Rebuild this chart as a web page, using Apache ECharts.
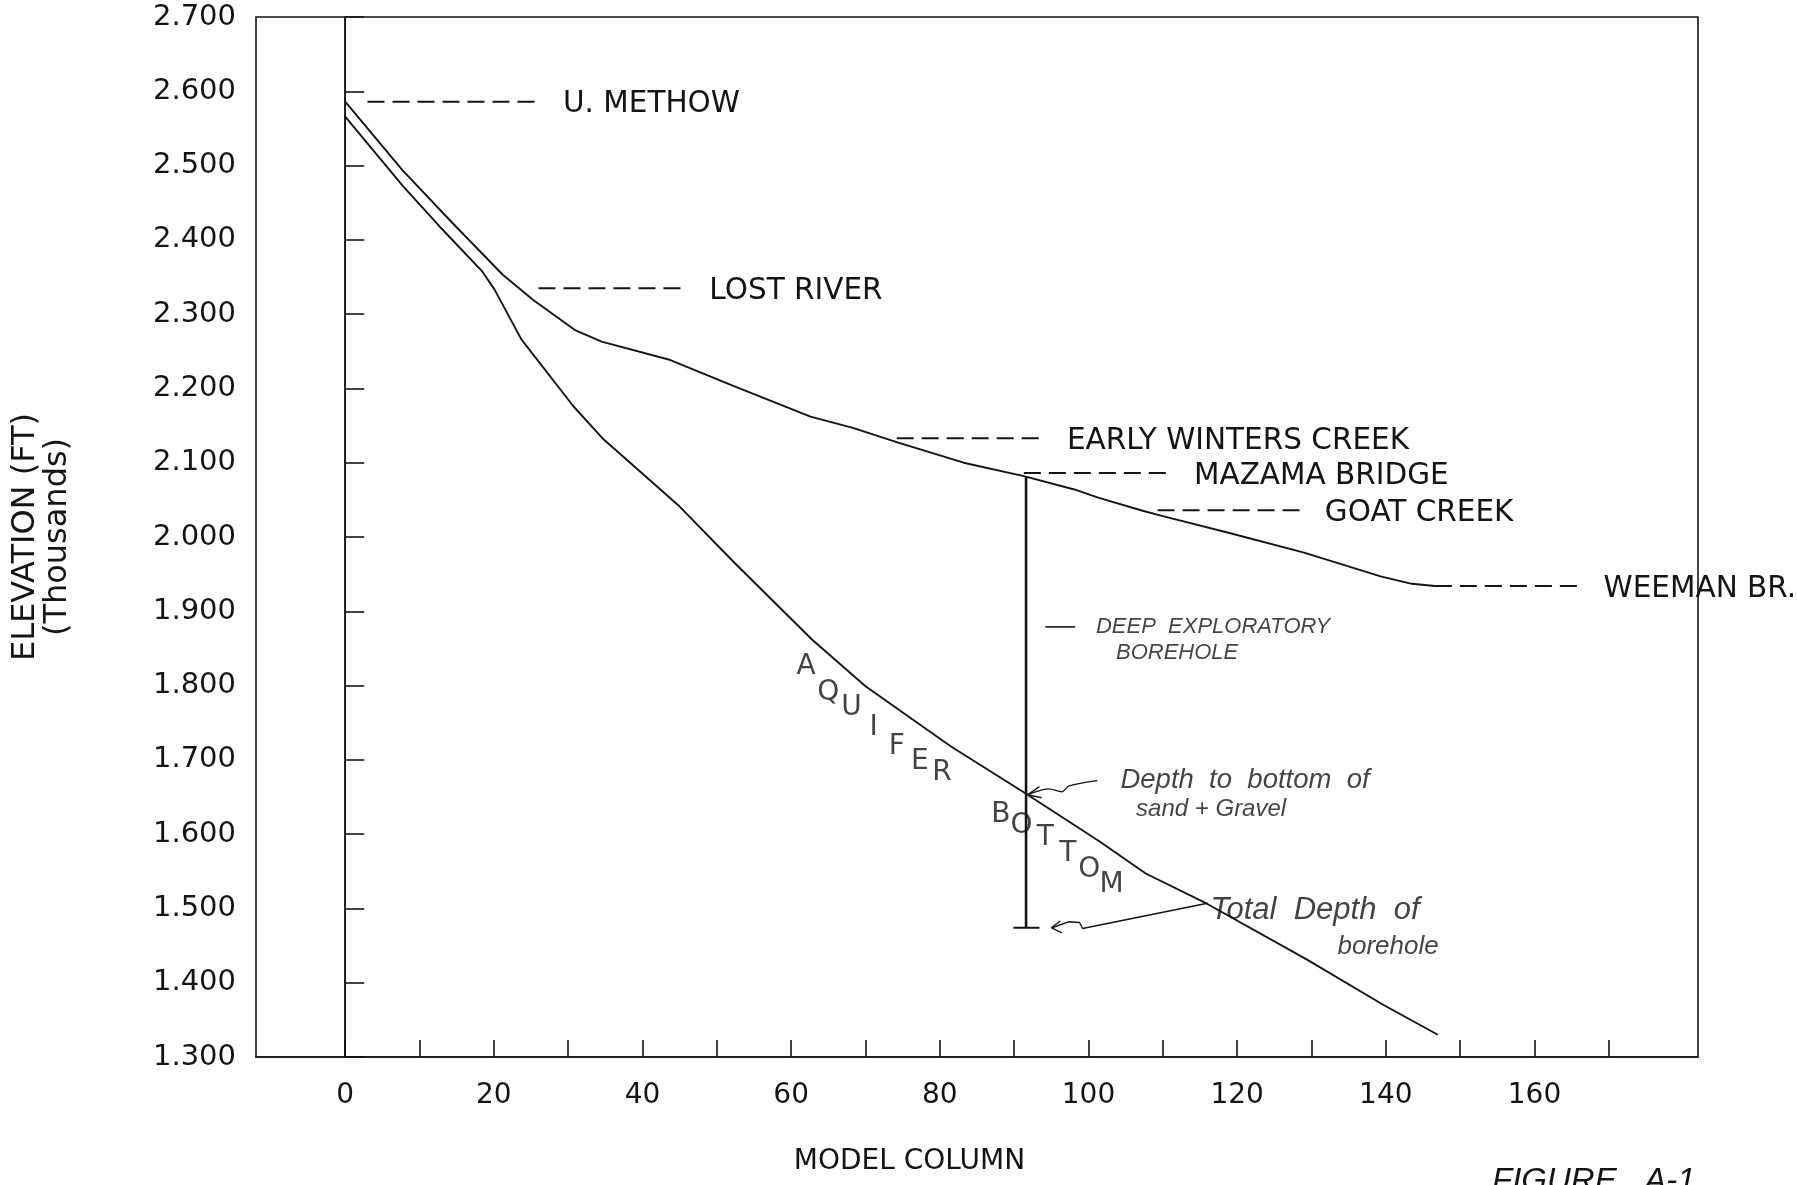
<!DOCTYPE html>
<html><head><meta charset="utf-8">
<script src="https://cdn.jsdelivr.net/npm/echarts@6/dist/echarts.min.js"></script>
<style>html,body{margin:0;padding:0;background:#fff}#c{width:1797px;height:1185px}</style>
</head><body><div id="c"></div>
<script>
// ---- data (model column, elevation in thousands of ft) ----
const riverCols = [0, 7.7, 14.4, 21.2, 25.3, 31, 34.5, 43.5, 52.3, 62.6, 68.3, 74.4, 83.2, 91.3, 98.1, 101.3, 107.4, 110, 118.7, 129, 139.3, 143.5, 146.6];
const riverElev = [2.586, 2.494, 2.423, 2.353, 2.319, 2.278, 2.263, 2.239, 2.203, 2.162, 2.147, 2.127, 2.100, 2.082, 2.064, 2.053, 2.035, 2.028, 2.006, 1.979, 1.947, 1.937, 1.934];
const aquiferCols = [0, 7.8, 12.7, 18.4, 20.1, 23.7, 30.7, 34.6, 45, 52.4, 62.8, 70, 81.5, 91.5, 101.5, 107.7, 116, 129.4, 139.7, 147];
const aquiferElev = [2.566, 2.472, 2.418, 2.358, 2.333, 2.266, 2.176, 2.133, 2.041, 1.965, 1.862, 1.799, 1.718, 1.655, 1.590, 1.547, 1.506, 1.431, 1.370, 1.330];

const yTickValues = [1.3, 1.4, 1.5, 1.6, 1.7, 1.8, 1.9, 2.0, 2.1, 2.2, 2.3, 2.4, 2.5, 2.6, 2.7];
const xTickValues = [0, 10, 20, 30, 40, 50, 60, 70, 80, 90, 100, 110, 120, 130, 140, 150, 160, 170];
const xLabelValues = [0, 20, 40, 60, 80, 100, 120, 140, 160];

const siteNames = ['U. METHOW', 'LOST RIVER', 'EARLY WINTERS CREEK', 'MAZAMA BRIDGE', 'GOAT CREEK', 'WEEMAN BR.'];
const siteStart = [3.0, 26.0, 74.2, 91.3, 109.3, 146.6];
const siteEnd = [26.2, 45.9, 94.0, 111.1, 128.7, 166.2];
const siteElev = [2.586, 2.335, 2.133, 2.086, 2.036, 1.934];

const boreholeCol = 91.6;
const boreholeTop = 2.082;
const boreholeBottom = 1.474;
const boreholeFootCols = [89.9, 93.4];

const letters = ['A', 'Q', 'U', 'I', 'F', 'E', 'R', 'B', 'O', 'T', 'T', 'O', 'M'];
const letterCols = [62.0, 65.0, 68.1, 71.1, 74.2, 77.3, 80.3, 88.2, 91.0, 94.2, 97.2, 100.1, 103.1];
const letterElev = [1.826, 1.790, 1.770, 1.743, 1.718, 1.698, 1.683, 1.626, 1.612, 1.595, 1.574, 1.552, 1.532];

const noteTexts = ['DEEP  EXPLORATORY', 'BOREHOLE', 'Depth  to  bottom  of', 'sand + Gravel', 'Total  Depth  of', 'borehole'];
const noteCols = [101.0, 103.7, 104.3, 106.4, 116.4, 133.5];
const noteElev = [1.879, 1.844, 1.673, 1.633, 1.498, 1.449];
const noteSizes = [22, 22, 27.5, 24, 31, 26];

const deepDashCols = [94.2, 98.2];
const deepDashElev = 1.879;

const arrow1Cols = [101.2, 97.4, 96.4, 94.7, 91.8];
const arrow1Elev = [1.672, 1.665, 1.657, 1.661, 1.653];
const head1Cols = [93.4, 91.8, 93.7];
const head1Elev = [1.664, 1.653, 1.649];

const arrow2Cols = [116.0, 99.2, 98.8, 97.3, 95.1];
const arrow2Elev = [1.507, 1.473, 1.481, 1.482, 1.474];
const head2Cols = [96.2, 95.0, 96.4];
const head2Elev = [1.483, 1.474, 1.467];

// ---- helpers ----
const zip = (xs, ys) => xs.map((x, i) => [x, ys[i]]);
const INK = '#141414';
const FONT = 'DejaVu Sans';
const HAND = 'Liberation Sans';

function plainLine(data, width, extra) {
  return Object.assign({
    type: 'line', data: data, symbol: 'none', showSymbol: false, silent: true,
    clip: false, animation: false,
    lineStyle: { color: INK, width: width }
  }, extra || {});
}

const series = [];
// vertical line at column 0
series.push(plainLine([[0, 1.3], [0, 2.7]], 1.6));
// river surface and aquifer bottom
series.push(plainLine(zip(riverCols, riverElev), 1.9));
series.push(plainLine(zip(aquiferCols, aquiferElev), 1.9));
// site leaders with labels
siteNames.forEach((nm, i) => {
  series.push(plainLine([[siteStart[i], siteElev[i]], [siteEnd[i], siteElev[i]]], 2, {
    name: nm,
    lineStyle: { color: INK, width: 2, type: [17, 8] },
    endLabel: {
      show: true, formatter: nm, distance: 23, offset: [0, 3],
      color: INK, fontSize: 29.5, fontFamily: FONT
    }
  }));
});
// borehole
series.push(plainLine([[boreholeCol, boreholeTop], [boreholeCol, boreholeBottom]], 2.6));
series.push(plainLine([[boreholeFootCols[0], boreholeBottom], [boreholeFootCols[1], boreholeBottom]], 2));
series.push(plainLine([[deepDashCols[0], deepDashElev], [deepDashCols[1], deepDashElev]], 1.6));
// arrows
series.push(plainLine(zip(arrow1Cols, arrow1Elev), 1.4, { smooth: 0.3 }));
series.push(plainLine(zip(head1Cols, head1Elev), 1.4));
series.push(plainLine(zip(arrow2Cols, arrow2Elev), 1.4));
series.push(plainLine(zip(head2Cols, head2Elev), 1.4));
// AQUIFER BOTTOM letters
series.push({
  type: 'scatter', data: zip(letterCols, letterElev), symbolSize: 0, silent: true, animation: false, clip: false,
  label: {
    show: true, position: 'inside', formatter: p => letters[p.dataIndex],
    color: INK, fontSize: 28, fontFamily: FONT
  }
});
// handwritten notes
noteTexts.forEach((t, i) => {
  series.push({
    type: 'scatter', data: [[noteCols[i], noteElev[i]]], symbolSize: 0, silent: true, animation: false, clip: false,
    label: {
      show: true, position: 'right', distance: 0, formatter: t,
      color: INK, fontSize: noteSizes[i], fontFamily: HAND, fontStyle: 'italic'
    }
  });
});

const chart = echarts.init(document.getElementById('c'), null, { renderer: 'canvas' });
chart.setOption({
  backgroundColor: '#ffffff',
  animation: false,
  grid: {
    left: 256, right: 99, top: 17, bottom: 128,
    show: true, borderColor: INK, borderWidth: 1.6,
    outerBoundsMode: 'none'
  },
  xAxis: {
    type: 'value', min: -12, max: 182,
    name: 'MODEL COLUMN', nameLocation: 'middle', nameGap: 91,
    nameTextStyle: { color: INK, fontSize: 28, fontFamily: FONT, padding: [0, 135, 0, 0] },
    splitLine: { show: false },
    axisLine: { show: true, onZero: false, lineStyle: { color: INK, width: 1.6 } },
    axisTick: { show: true, inside: true, length: 17, customValues: xTickValues, lineStyle: { color: INK, width: 1.6 } },
    axisLabel: { customValues: xLabelValues, margin: 25, color: INK, fontSize: 28, fontFamily: FONT }
  },
  yAxis: {
    type: 'value', min: 1.3, max: 2.7, interval: 0.1,
    name: 'ELEVATION (FT)\n(Thousands)', nameLocation: 'middle', nameGap: 182,
    nameTextStyle: { color: INK, fontSize: 32, fontFamily: FONT, lineHeight: 32 },
    splitLine: { show: false },
    axisLine: { show: true, lineStyle: { color: INK, width: 1.6 } },
    axisTick: { show: true, inside: true, length: 19, customValues: yTickValues, lineStyle: { color: INK, width: 1.6 } },
    axisLabel: { margin: 20, color: INK, fontSize: 29, fontFamily: FONT, formatter: v => v.toFixed(3) }
  },
  graphic: [{
    type: 'text', left: 1492, top: 1165, silent: true,
    style: { text: 'FIGURE   A-1', fill: INK, font: 'italic 33px "Liberation Sans"' }
  }],
  series: series
});
</script>
</body></html>
